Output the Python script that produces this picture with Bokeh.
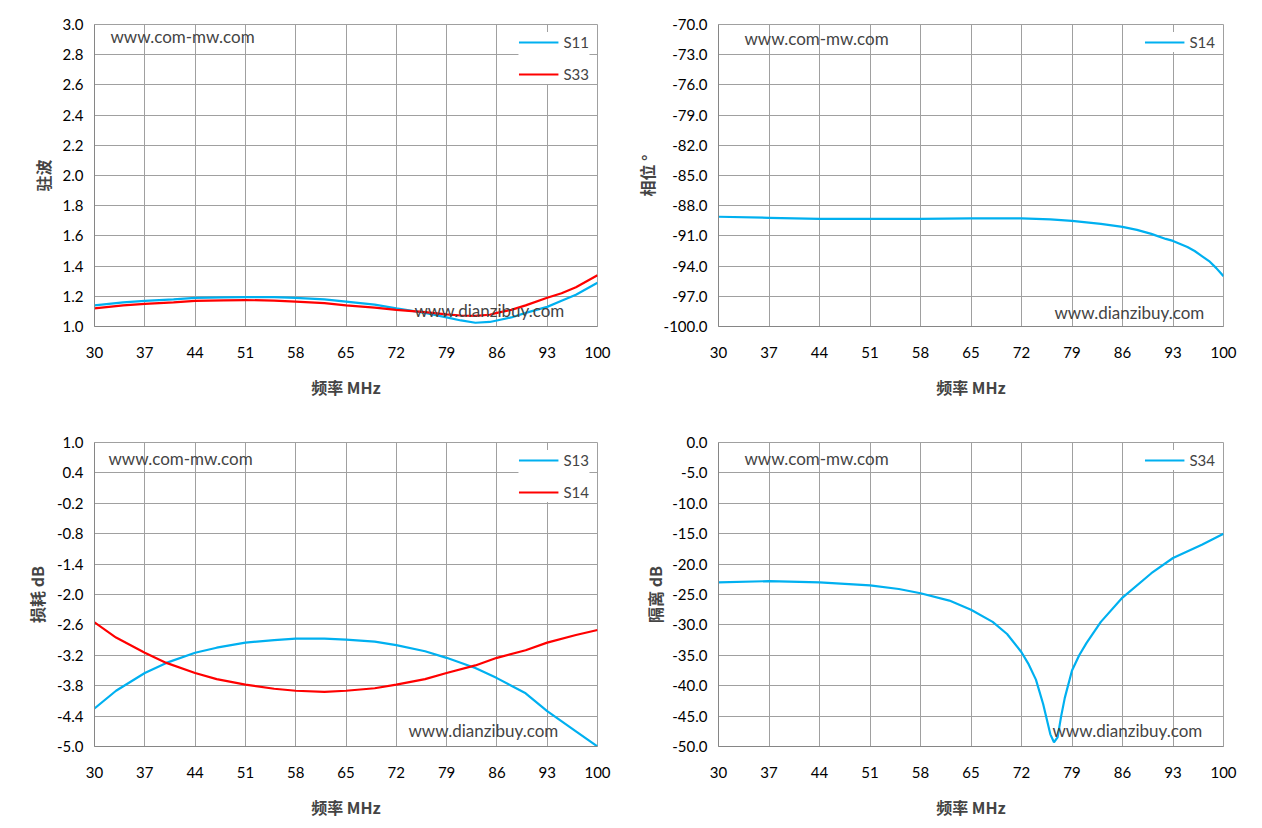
from bokeh.plotting import figure
from bokeh.layouts import gridplot
from bokeh.models import Label, Legend, LegendItem, FixedTicker, Range1d
from bokeh.embed import file_html
from bokeh.resources import INLINE

x_ticks = [30, 37, 44, 51, 58, 65, 72, 79, 86, 93, 100]

vswr_f = [30, 34, 37, 41, 44, 48, 51, 55, 58, 62, 65, 69, 72, 76, 79, 81, 83, 85, 86, 88, 90, 93, 95, 97, 100]
s11 = [1.14, 1.16, 1.17, 1.18, 1.19, 1.193, 1.195, 1.194, 1.19, 1.18, 1.165, 1.145, 1.12, 1.09, 1.06, 1.04, 1.025, 1.03, 1.04, 1.06, 1.09, 1.13, 1.17, 1.21, 1.29]
s33 = [1.12, 1.14, 1.15, 1.16, 1.17, 1.173, 1.175, 1.172, 1.165, 1.155, 1.14, 1.125, 1.11, 1.095, 1.08, 1.073, 1.07, 1.078, 1.09, 1.11, 1.14, 1.19, 1.22, 1.26, 1.34]

ph_f = [30, 37, 44, 51, 58, 65, 72, 76, 79, 81, 83, 86, 88, 90, 92, 93, 95, 96, 97, 98, 99, 100]
ph_s14 = [-89.1, -89.2, -89.3, -89.3, -89.3, -89.25, -89.25, -89.35, -89.5, -89.65, -89.8, -90.1, -90.4, -90.8, -91.3, -91.5, -92.1, -92.5, -93.0, -93.5, -94.2, -95.0]

il_f = [30, 33, 37, 40, 44, 47, 51, 55, 58, 62, 65, 69, 72, 76, 79, 83, 86, 90, 93, 97, 100]
il_s13 = [-4.25, -3.9, -3.55, -3.35, -3.15, -3.05, -2.95, -2.9, -2.87, -2.87, -2.89, -2.93, -3.0, -3.12, -3.25, -3.45, -3.65, -3.95, -4.3, -4.7, -5.0]
il_s14 = [-2.55, -2.85, -3.15, -3.35, -3.55, -3.67, -3.78, -3.86, -3.9, -3.92, -3.9, -3.85, -3.78, -3.67, -3.55, -3.4, -3.25, -3.1, -2.95, -2.8, -2.7]

iso_f = [30, 37, 44, 51, 55, 58, 62, 65, 68, 70, 72, 73, 74, 75, 76, 76.5, 77, 77.5, 78, 79, 80, 81, 83, 86, 90, 93, 97, 100]
iso_s34 = [-23, -22.8, -23, -23.5, -24.1, -24.8, -26, -27.5, -29.5, -31.5, -34.5, -36.5, -39, -43, -48, -49.3, -48.5, -45, -42, -37.5, -35, -33, -29.5, -25.5, -21.5, -19, -16.8, -15]

CYAN = "#00B0F0"
RED = "#FF0000"
TF = "Lato"
CJK = "Noto Sans CJK SC"

def make(ylab, y0, y1, step, fmt, borders, series, lbl1, lbl2, tight=False):
    left, right, top, bottom = borders
    p = figure(width=631, height=414, output_backend="svg", toolbar_location=None,
               x_range=Range1d(30, 100), y_range=Range1d(y0, y1),
               min_border_left=left, min_border_right=right,
               min_border_top=top, min_border_bottom=bottom)
    p.xaxis.ticker = FixedTicker(ticks=x_ticks)
    n = int(round((y1 - y0) / step))
    yt = [round(y0 + i * step, 4) for i in range(n + 1)]
    p.yaxis.ticker = FixedTicker(ticks=yt)
    p.yaxis.major_label_overrides = {v: fmt.format(v) for v in yt}
    for ax in (p.xaxis[0], p.yaxis[0]):
        ax.major_label_text_font = TF
        ax.major_label_text_font_size = "15px"
        ax.major_label_text_color = "#000000"
        ax.axis_line_color = "#868686"
        ax.major_tick_line_color = None
        ax.minor_tick_line_color = None
        ax.axis_label_text_font = CJK
        ax.axis_label_text_font_style = "bold"
        ax.axis_label_text_font_size = "16px"
    p.xaxis.major_label_standoff = 14
    p.xaxis.axis_label_standoff = 14
    if tight:
        p.yaxis.major_label_standoff = 5
        p.yaxis.axis_label_standoff = 2
    p.xaxis.axis_label = "频率 MHz"
    p.yaxis.axis_label = ylab
    p.grid.grid_line_color = "#A0A0A0"
    p.grid.grid_line_alpha = 1
    p.outline_line_color = "#A0A0A0"
    items = []
    for xs, ys, c, name in series:
        r = p.line(xs, ys, line_color=c, line_width=2.2)
        items.append(LegendItem(label=name, renderers=[r]))
    lg = Legend(items=items, location="top_right", border_line_color=None,
                background_fill_color="white", background_fill_alpha=1,
                label_text_font=TF, label_text_font_size="15px",
                glyph_width=40, spacing=12, margin=8)
    p.add_layout(lg)
    p.add_layout(Label(x=lbl1[0], y=lbl1[1], x_units="screen", y_units="screen",
                       text="www.com-mw.com", text_font=TF, text_font_size="17px"))
    p.add_layout(Label(x=lbl2[0], y=lbl2[1], x_units="screen", y_units="screen",
                       text="www.dianzibuy.com", text_font=TF, text_font_size="17px"))
    return p

p1 = make("驻波", 1.0, 3.0, 0.2, "{:.1f}", (93, 34, 20, 88),
          [(vswr_f, s11, CYAN, "S11"), (vswr_f, s33, RED, "S33")], (16, 280), (320, 6))
p2 = make("相位 °", -100.0, -70.0, 3.0, "{:.1f}", (73, 39, 24, 86),
          [(ph_f, ph_s14, CYAN, "S14")], (26, 278), (336, 4), tight=True)
p3 = make("损耗 dB", -5.0, 1.0, 0.6, "{:.1f}", (94, 34, 28, 82),
          [(il_f, il_s13, CYAN, "S13"), (il_f, il_s14, RED, "S14")], (14, 278), (314, 6))
p4 = make("隔离 dB", -50.0, 0.0, 5.0, "{:.1f}", (73, 39, 28, 82),
          [(iso_f, iso_s34, CYAN, "S34")], (26, 278), (334, 6), tight=True)

g = gridplot([[p1, p2], [p3, p4]], toolbar_location=None)
open("out.html", "w").write(file_html(g, INLINE))
